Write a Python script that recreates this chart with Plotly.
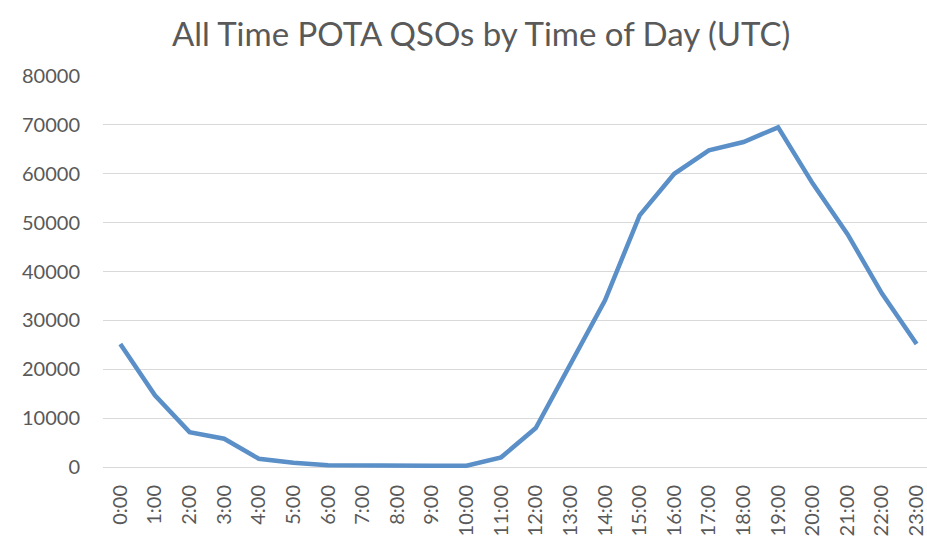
import plotly.graph_objects as go

hours = [f"{h}:00" for h in range(24)]
qsos = [25200, 14700, 7150, 5800, 1700, 900, 400, 300, 300, 300, 300,
        2000, 8000, 21100, 34100, 51500, 60000, 64800, 66500, 69500,
        58000, 47700, 35500, 25200]
y_ticks = [0, 10000, 20000, 30000, 40000, 50000, 60000, 70000, 80000]

TXT = "#595959"
FONT = "Lato"

fig = go.Figure()
fig.add_trace(go.Scatter(
    x=hours, y=qsos, mode="lines",
    line=dict(color="#5A8FC8", width=4.5),
    hoverinfo="x+y", showlegend=False,
))

fig.update_layout(
    width=927, height=544,
    margin=dict(l=103, r=0, t=76, b=72),
    paper_bgcolor="white", plot_bgcolor="white",
    title=dict(
        text="All Time POTA QSOs by Time of Day (UTC)",
        x=0.519, xref="container", xanchor="center",
        y=1 - 34 / 544, yref="container", yanchor="middle",
        font=dict(family=FONT, size=33, color=TXT),
    ),
    xaxis=dict(
        type="category", categoryorder="array", categoryarray=hours,
        range=[-0.5, 23.3],
        tickangle=-90, tickfont=dict(family=FONT, size=20, color=TXT),
        showgrid=False, showline=False, zeroline=False,
        ticks="", ticklabelstandoff=8,
    ),
    yaxis=dict(
        range=[-1000, 80000],
        tickvals=y_ticks, ticktext=[str(v) for v in y_ticks],
        tickfont=dict(family=FONT, size=20, color=TXT),
        showgrid=True, gridcolor="#D9D9D9", gridwidth=1.3,
        zeroline=True, zerolinecolor="#D9D9D9", zerolinewidth=1.3,
        showline=False, ticks="", ticklabelstandoff=22,
    ),
)

fig.write_html("out.html")
